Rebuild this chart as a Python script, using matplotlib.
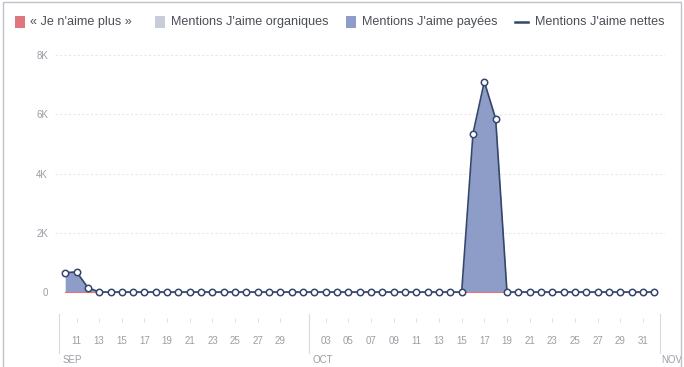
import matplotlib
matplotlib.use("Agg")
import matplotlib.pyplot as plt
from matplotlib.patches import Rectangle
from matplotlib.lines import Line2D
import matplotlib.transforms as mtransforms
import numpy as np
import pandas as pd

# ---- data ----
dates = pd.date_range("2015-09-10", "2015-11-01", freq="D")
paid_likes = [650, 680, 150] + [0] * 33 + [5350, 7100, 5850] + [0] * 14
organic_likes = [0] * 53
unlikes = [0] * 53
net_likes = [650, 680, 150] + [0] * 33 + [5350, 7100, 5850] + [0] * 14

tick_days = ["11", "13", "15", "17", "19", "21", "23", "25", "27", "29",
             "03", "05", "07", "09", "11", "13", "15", "17", "19", "21",
             "23", "25", "27", "29", "31"]
tick_dates = (["2015-09-%s" % d for d in tick_days[:10]] +
              ["2015-10-%s" % d for d in tick_days[10:]])
month_labels = ["SEP", "OCT", "NOV"]
month_bounds = ["2015-09-09", "2015-10-01", "2015-11-01"]
y_ticks = [0, 2000, 4000, 6000, 8000]
y_labels = ["0", "2K", "4K", "6K", "8K"]
legend_labels = ["« Je n'aime plus »", "Mentions J'aime organiques",
                 "Mentions J'aime payées", "Mentions J'aime nettes"]

# ---- styles ----
W, H = 684, 367
col_unlike = "#e0757d"
col_org = "#c9cdd9"
col_paid = "#8e9dc8"
col_net = "#34466b"
txt_col = "#4b4f56"
tick_col = "#9a9ea5"

plt.rcParams["font.family"] = ["Liberation Sans", "DejaVu Sans"]

fig = plt.figure(figsize=(W / 100, H / 100), dpi=100)
fig.patch.set_facecolor("white")

def px(x0, y0, x1, y1):
    return [x0 / W, 1 - y1 / H, (x1 - x0) / W, (y1 - y0) / H]

ax = fig.add_axes(px(55, 45, 665, 318))
idx = np.arange(len(dates))
x0 = dates[0]
def day_index(s):
    return (pd.Timestamp(s) - x0).days

ax.set_xlim(-0.9, 52.95)
ax.set_ylim(-878, 8338)

for yt in y_ticks[1:]:
    ax.axhline(yt, color="#e6e8eb", lw=0.8, ls=(0, (2, 2)), zorder=0)

ax.fill_between(idx, organic_likes, color=col_org, lw=0, zorder=1)
ax.fill_between(idx, paid_likes, color=col_paid, lw=0, zorder=2)
ax.plot(idx, unlikes, color=col_unlike, lw=0.8, zorder=2.5)
ax.plot(idx, net_likes, color=col_net, lw=1.2, marker="o", ms=4.6,
        mfc="white", mec=col_net, mew=1.1, zorder=3)

for s in ax.spines.values():
    s.set_visible(False)

ax.set_yticks(y_ticks)
ax.set_yticklabels(y_labels)
ax.tick_params(axis="y", length=0, pad=5, labelsize=7, labelcolor=tick_col)

ax.set_xticks([day_index(d) for d in tick_dates])
ax.set_xticklabels(tick_days)
ax.tick_params(axis="x", length=3, width=0.6, color="#d8dadf", pad=10,
               labelsize=7, labelcolor=tick_col, direction="out")

trans = mtransforms.blended_transform_factory(ax.transData, ax.transAxes)
offsets = [0.45, 0.5, 0.5]
label_shift = [0.3, 0.3, 0.15]
for lab, b, off, sh in zip(month_labels, month_bounds, offsets, label_shift):
    xb = day_index(b) + off
    ax.add_line(Line2D([xb, xb], [0.015, -0.13], transform=trans,
                       color="#d8dadf", lw=0.8, clip_on=False))
    ax.text(xb + sh, -0.135, lab, transform=trans, fontsize=7,
            color=tick_col, ha="left", va="top", clip_on=False)

# ---- legend (manual) ----
items = [(15, col_unlike, 30), (155, col_org, 171), (346, col_paid, 362)]
for (sx, c, tx), lab in zip(items, legend_labels[:3]):
    fig.add_artist(Rectangle((sx / W, 1 - 28 / H), 10 / W, 12 / H,
                             transform=fig.transFigure, color=c, lw=0))
    fig.text(tx / W, 1 - 22 / H, lab, fontsize=9.1, color=txt_col,
             va="center", ha="left")
fig.add_artist(Line2D([515 / W, 528 / W], [1 - 22 / H, 1 - 22 / H],
                      transform=fig.transFigure, color=col_net, lw=1.8))
fig.text(535 / W, 1 - 22 / H, legend_labels[3], fontsize=9.1, color=txt_col,
         va="center", ha="left")

# figure frame
fig.add_artist(Rectangle((3 / W, -0.01), (W - 6) / W, 1 - 1.5 / H + 0.01,
                         transform=fig.transFigure, fill=False,
                         ec="#bfc3c9", lw=1.0))

fig.savefig("out.png", dpi=100, facecolor="white")
